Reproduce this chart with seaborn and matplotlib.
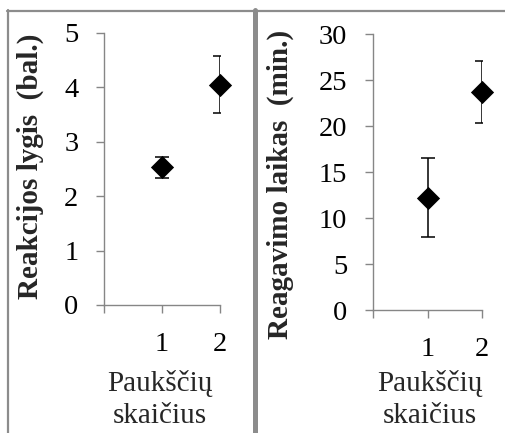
import matplotlib
matplotlib.use("Agg")
import matplotlib.pyplot as plt
import seaborn as sns
import pandas as pd
from matplotlib.lines import Line2D

# Data
birds = [1, 2]
reaction_level = [2.53, 4.05]
reaction_level_err = [0.19, 0.52]
reaction_time = [12.2, 23.7]
reaction_time_err = [4.3, 3.35]
xlabel_lines = ["Paukščių", "skaičius"]

sns.set_theme(style="white")
plt.rcParams["font.family"] = ["Liberation Serif", "DejaVu Serif"]

W, H = 505, 433
fig = plt.figure(figsize=(W / 100, H / 100), dpi=100)

GRAY = "#868686"
FRAME = "#8c8c8c"


def px_axes(x0, y_top, x1, y_bot):
    return fig.add_axes([x0 / W, 1 - y_bot / H, (x1 - x0) / W, (y_bot - y_top) / H])


def draw_panel(ax, y, err, ymax, ystep, ylabel, ylabel_x, ylabel_y, ylabel_size, xlabel_x):
    df = pd.DataFrame({"x": birds, "y": y})
    ax.errorbar(birds, y, yerr=err, fmt="none", ecolor="black",
                elinewidth=1.1, capsize=4.7, capthick=1.1, zorder=2)
    sns.scatterplot(data=df, x="x", y="y", marker="D", s=140, color="black",
                    edgecolor="black", linewidth=0, ax=ax, zorder=3, clip_on=False)
    ax.set_xlim(0, 2)
    ax.set_ylim(0, ymax)
    ax.set_xticks([0, 1, 2])
    ax.set_xticklabels(["", "1", "2"])
    ax.set_yticks(range(0, ymax + 1, ystep))
    for side in ("top", "right"):
        ax.spines[side].set_visible(False)
    for side in ("left", "bottom"):
        ax.spines[side].set_color(GRAY)
        ax.spines[side].set_linewidth(1.0)
    ax.tick_params(axis="both", direction="out", length=5.5, width=1.0,
                   color=GRAY, labelsize=20.5, labelcolor="black",
                   bottom=True, left=True)
    ax.tick_params(axis="y", pad=13)
    ax.tick_params(axis="x", pad=14)
    ax.set_xlabel("")
    ax.set_ylabel("")
    # two-line axis title below the ticks
    for line, base in zip(xlabel_lines, (391, 423)):
        fig.text(xlabel_x / W, 1 - base / H, line, fontsize=21,
                 ha="center", va="baseline")
    fig.text(ylabel_x / W, 1 - ylabel_y / H, ylabel, rotation=90,
             fontsize=ylabel_size, fontweight="bold", ha="center", va="center")
    ax.patch.set_alpha(0)


ax1 = px_axes(104, 33, 220, 305)
draw_panel(ax1, reaction_level, reaction_level_err, 5, 1,
           "Reakcijos lygis  (bal.)", 30, 166, 21, 160)

ax2 = px_axes(373, 34, 482, 310)
draw_panel(ax2, reaction_time, reaction_time_err, 30, 5,
           "Reagavimo laikas  (min.)", 280, 184, 21, 430)

# Panel frames
def hline(y, x0, x1, lw):
    fig.add_artist(Line2D([x0 / W, x1 / W], [1 - y / H, 1 - y / H],
                          color=FRAME, linewidth=lw, transform=fig.transFigure))


def vline(x, y0, y1, lw):
    fig.add_artist(Line2D([x / W, x / W], [1 - y0 / H, 1 - y1 / H],
                          color=FRAME, linewidth=lw, transform=fig.transFigure))


hline(11, 7, W, 1.6)
vline(8, 10, H, 1.6)
vline(255, 10, H, 3.6)

fig.savefig("out.png", dpi=100)
